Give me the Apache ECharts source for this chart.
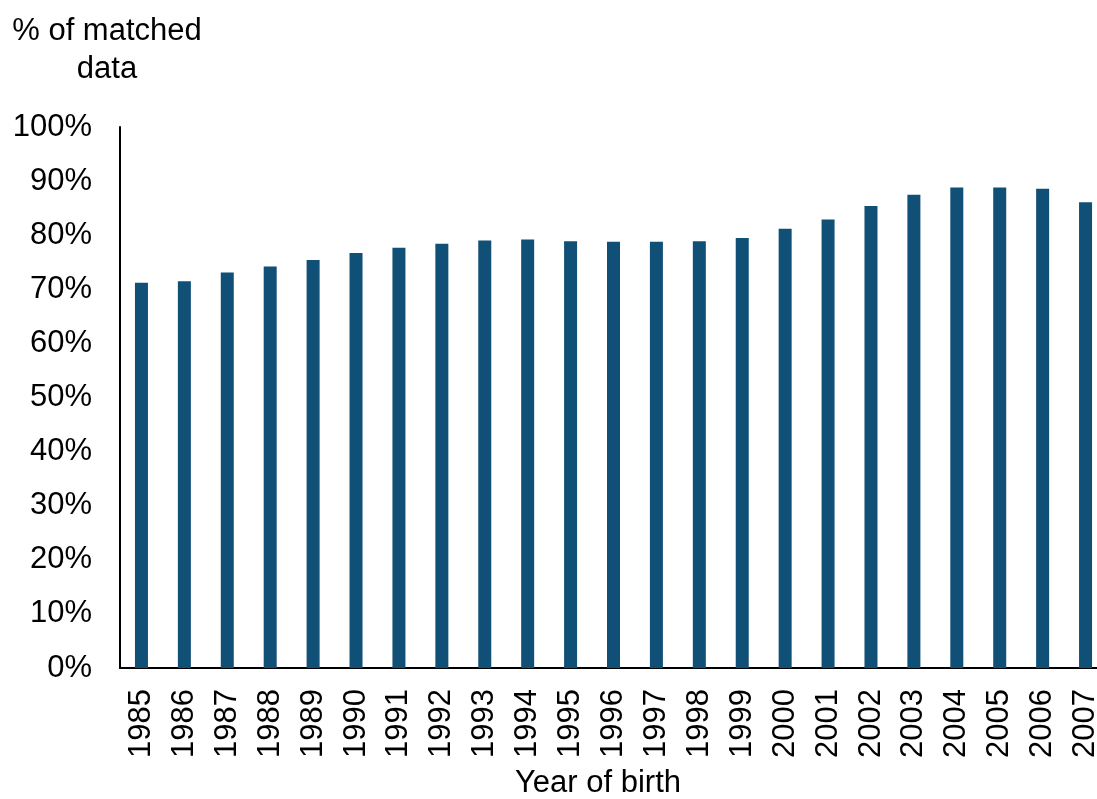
<!DOCTYPE html>
<html>
<head>
<meta charset="utf-8">
<script src="https://cdn.jsdelivr.net/npm/echarts@6/dist/echarts.min.js"></script>
<style>
  html, body { margin: 0; padding: 0; background: #fff; }
  #chart { width: 1097px; height: 799px; }
</style>
</head>
<body>
<div id="chart"></div>
<script>
// Share of records matched, by year of birth
const years = ['1985','1986','1987','1988','1989','1990','1991','1992','1993','1994','1995','1996',
               '1997','1998','1999','2000','2001','2002','2003','2004','2005','2006','2007'];
const matchedPct = [71.2, 71.5, 73.1, 74.2, 75.4, 76.7, 77.7, 78.4, 79.0, 79.2, 78.9, 78.8,
                    78.8, 78.9, 79.5, 81.2, 82.9, 85.4, 87.5, 88.8, 88.8, 88.6, 86.1];
const yTicks = { min: 0, max: 100, interval: 10 };

const font = '"Liberation Sans", Arial, sans-serif';
const chart = echarts.init(document.getElementById('chart'), null, { renderer: 'canvas' });

chart.setOption({
  animation: false,
  backgroundColor: '#ffffff',
  // the category axis runs slightly past the right edge of the canvas
  grid: { left: 120, top: 127, width: 987, bottom: 131, containLabel: false, outerBoundsMode: 'none' },
  xAxis: {
    type: 'category',
    data: years,
    axisLine: { lineStyle: { color: '#000', width: 2 } },
    axisTick: { show: false },
    axisLabel: { rotate: 90, margin: 21, color: '#000', fontSize: 31, fontFamily: font }
  },
  yAxis: {
    type: 'value',
    min: yTicks.min, max: yTicks.max, interval: yTicks.interval,
    axisLine: { show: true, lineStyle: { color: '#000', width: 2 } },
    axisTick: { show: false },
    splitLine: { show: false },
    axisLabel: { margin: 28, color: '#000', fontSize: 31, fontFamily: font,
                 formatter: v => v + '%' }
  },
  series: [{
    type: 'bar',
    data: matchedPct,
    barWidth: 13,
    itemStyle: { color: '#104f76' }
  }],
  graphic: [
    { type: 'text', x: 107, y: 12,
      style: { text: '% of matched\ndata', align: 'center', fill: '#000',
               font: '31px ' + font, lineHeight: 38 } },
    { type: 'text', x: 598, y: 768,
      style: { text: 'Year of birth', align: 'center', fill: '#000', font: '31px ' + font } }
  ]
});
</script>
</body>
</html>
